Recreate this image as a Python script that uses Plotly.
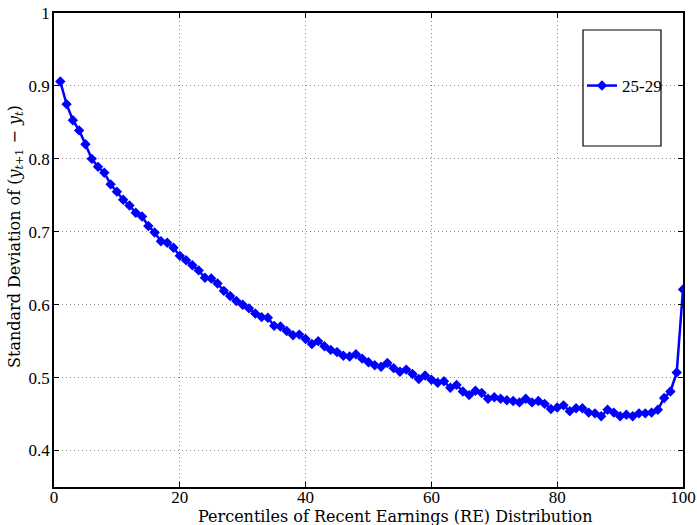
import plotly.graph_objects as go

percentiles = list(range(1, 101))
std_dev = [
    0.906, 0.875, 0.853, 0.839, 0.820, 0.800, 0.789, 0.781, 0.765, 0.755,
    0.744, 0.736, 0.726, 0.721, 0.708, 0.699, 0.687, 0.685, 0.678, 0.667,
    0.661, 0.654, 0.647, 0.637, 0.636, 0.629, 0.619, 0.612, 0.605, 0.600,
    0.595, 0.588, 0.583, 0.582, 0.571, 0.570, 0.564, 0.558, 0.559, 0.553,
    0.546, 0.550, 0.543, 0.538, 0.535, 0.530, 0.529, 0.532, 0.526, 0.521,
    0.517, 0.515, 0.520, 0.513, 0.508, 0.511, 0.505, 0.498, 0.503, 0.497,
    0.493, 0.495, 0.486, 0.490, 0.481, 0.476, 0.482, 0.479, 0.471, 0.473,
    0.471, 0.469, 0.468, 0.466, 0.471, 0.466, 0.468, 0.464, 0.457, 0.459,
    0.462, 0.454, 0.458, 0.458, 0.452, 0.451, 0.447, 0.456, 0.452, 0.447,
    0.449, 0.447, 0.451, 0.451, 0.452, 0.456, 0.472, 0.481, 0.507, 0.621,
]
series_name = "25-29"
x_ticks = [0, 20, 40, 60, 80, 100]
y_ticks = [0.4, 0.5, 0.6, 0.7, 0.8, 0.9, 1.0]
y_tick_labels = ["0.4", "0.5", "0.6", "0.7", "0.8", "0.9", "1"]
x_title = "Percentiles of Recent Earnings (RE) Distribution"
y_title = "Standard Deviation of (<i>y</i><sub><i>t</i>+1</sub> − <i>y</i><sub><i>t</i></sub>)"

W, H = 697, 525
L, R, T, B = 54, 14, 13, 38
pw, ph = W - L - R, H - T - B
SERIF = "Liberation Serif, Times New Roman, serif"

def px2paper(px, py):
    return (px - L) / pw, (H - B - py) / ph

fig = go.Figure()
fig.add_trace(go.Scatter(
    x=percentiles, y=std_dev, name=series_name, mode="lines+markers",
    line=dict(color="#0000ff", width=2.5),
    marker=dict(symbol="diamond", size=8, color="#0000ff"),
))

axis_common = dict(
    showline=True, linecolor="black", linewidth=1.5, mirror="ticks",
    ticks="inside", ticklen=5, tickcolor="black", tickwidth=1,
    showgrid=True, gridcolor="#8a8a8a", griddash="1px,3px", gridwidth=1,
    zeroline=False, automargin=False,
    tickfont=dict(family=SERIF, size=17, color="black"),
)

fig.update_xaxes(range=[0, 100], tickvals=x_ticks, ticklabelstandoff=-6, **axis_common)
fig.update_yaxes(range=[0.35, 1.0], tickvals=y_ticks, ticktext=y_tick_labels,
                 ticklabelstandoff=-1, **axis_common)

tx, ty = px2paper(395, 516)
fig.add_annotation(text=x_title, xref="paper", yref="paper", x=tx, y=ty,
                   xanchor="center", yanchor="middle", showarrow=False,
                   font=dict(family="DejaVu Serif", size=16, color="black"))
tx, ty = px2paper(15, 237)
fig.add_annotation(text=y_title, xref="paper", yref="paper", x=tx, y=ty,
                   xanchor="center", yanchor="middle", showarrow=False, textangle=-90,
                   font=dict(family="DejaVu Serif", size=16, color="black"))

x0, y0 = px2paper(583, 30)
x1, y1 = px2paper(661, 146)
fig.add_shape(type="rect", xref="paper", yref="paper", x0=x0, y0=y1, x1=x1, y1=y0,
              line=dict(color="black", width=1.2), fillcolor="white", layer="above")

lx, ly = px2paper(582, 86)
fig.update_layout(
    width=W, height=H,
    margin=dict(l=L, r=R, t=T, b=B),
    plot_bgcolor="white", paper_bgcolor="white",
    showlegend=True,
    legend=dict(x=lx, y=ly, xanchor="left", yanchor="middle",
                bgcolor="rgba(0,0,0,0)", borderwidth=0,
                font=dict(family=SERIF, size=17, color="black"),
                itemwidth=30, tracegroupgap=0),
)

fig.write_html("out.html")
